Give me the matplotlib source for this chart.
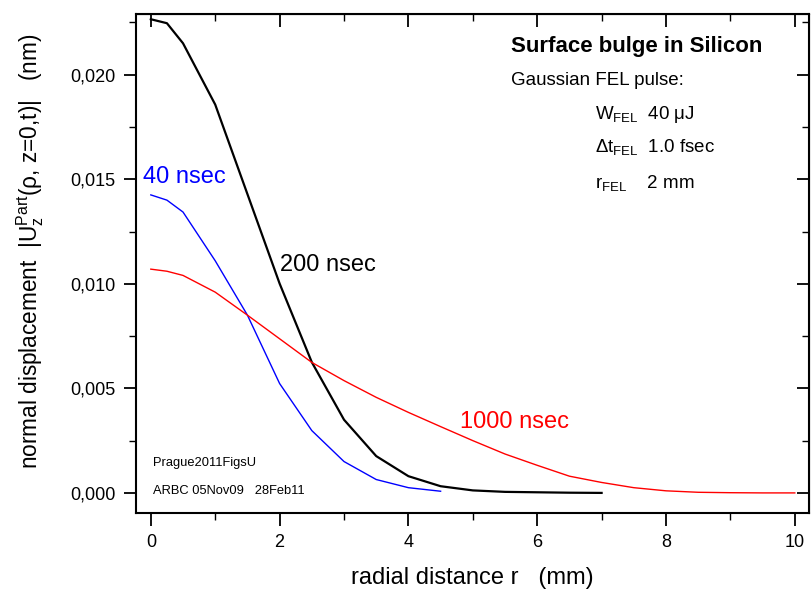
import numpy as np
import matplotlib
matplotlib.use('Agg')
import matplotlib.pyplot as plt
from matplotlib.ticker import MultipleLocator, FuncFormatter

plt.rcParams['font.family'] = ['Liberation Sans', 'DejaVu Sans']
plt.rcParams['mathtext.fontset'] = 'custom'
plt.rcParams['mathtext.rm'] = 'Liberation Sans'
plt.rcParams['mathtext.it'] = 'Liberation Sans:italic'
plt.rcParams['mathtext.default'] = 'regular'

# radial distance (mm) and displacement (nm)
r_40 = [0, 0.25, 0.5, 1.0, 1.5, 2.0, 2.5, 3.0, 3.5, 4.0, 4.5]
u_40 = [0.01425, 0.0140, 0.01343, 0.0111, 0.0085, 0.00523, 0.00298, 0.0015, 0.00064, 0.00025, 0.00008]

r_200 = [0, 0.25, 0.5, 1.0, 2.0, 2.5, 3.0, 3.5, 4.0, 4.5, 5.0, 5.5, 6.0, 6.5, 7.0]
u_200 = [0.02265, 0.02246, 0.0215, 0.01857, 0.01001, 0.00625, 0.0035, 0.00176, 0.0008,
         0.00032, 0.00012, 0.00005, 0.00003, 0.00001, 0.0]

r_1000 = [0, 0.25, 0.5, 1.0, 1.5, 2.0, 2.5, 3.0, 3.5, 4.0, 4.5, 5.0, 5.5, 6.0, 6.5,
          7.0, 7.5, 8.0, 8.5, 9.0, 9.5, 10.0]
u_1000 = [0.0107, 0.0106, 0.0104, 0.0096, 0.0085, 0.00737, 0.00624, 0.00537, 0.00457,
          0.00385, 0.00317, 0.0025, 0.00186, 0.00132, 0.0008, 0.0005, 0.00025, 0.0001,
          0.00003, 0.00001, 0.0, 0.0]

fig = plt.figure(figsize=(8.11, 5.91), dpi=100)
ax = fig.add_axes([0.1677, 0.1320, 0.8298, 0.8443])

ax.plot(r_40, u_40, color='blue', lw=1.0)
ax.plot(r_200, u_200, color='black', lw=1.6)
ax.plot(r_1000, u_1000, color='red', lw=1.0)

ax.set_xlim(-0.23, 10.22)
ax.set_ylim(-0.00096, 0.0229)

ax.xaxis.set_major_locator(MultipleLocator(2))
ax.xaxis.set_minor_locator(MultipleLocator(1))
ax.yaxis.set_major_locator(MultipleLocator(0.005))
ax.yaxis.set_minor_locator(MultipleLocator(0.0025))
ax.yaxis.set_major_formatter(FuncFormatter(lambda v, p: ('%.3f' % v).replace('.', ',')))

ax.tick_params(which='major', direction='out', length=9, width=1.3, labelsize=13, pad=6)
ax.tick_params(which='minor', direction='out', length=5, width=1.0)
for s in ax.spines.values():
    s.set_linewidth(1.5)

# mirrored ticks on top and right, pointing inward
top = ax.secondary_xaxis('top')
top.xaxis.set_major_locator(MultipleLocator(2))
top.xaxis.set_minor_locator(MultipleLocator(1))
top.tick_params(which='major', direction='in', length=9, width=1.3, labeltop=False)
top.tick_params(which='minor', direction='in', length=5, width=1.0)
right = ax.secondary_yaxis('right')
right.yaxis.set_major_locator(MultipleLocator(0.005))
right.yaxis.set_minor_locator(MultipleLocator(0.0025))
right.tick_params(which='major', direction='in', length=9, width=1.3, labelright=False)
right.tick_params(which='minor', direction='in', length=5, width=1.0)

ax.set_xlabel('radial distance r   (mm)', fontsize=17, labelpad=12)
ax.set_ylabel(r'normal displacement  |U$_\mathrm{z}^\mathrm{Part}$($\rho$, z=0,t)|   (nm)',
              fontsize=16.3)
ax.yaxis.set_label_coords(-0.133, 0.525)

ax.text(-0.12, 0.0148, '40 nsec', color='blue', fontsize=17)
ax.text(2.0, 0.0106, '200 nsec', color='black', fontsize=17)
ax.text(4.8, 0.0031, '1000 nsec', color='red', fontsize=17)

ax.text(0.03, 0.0013, 'Prague2011FigsU', fontsize=9.3)
ax.text(0.03, -0.00005, 'ARBC 05Nov09   28Feb11', fontsize=9.3)

ax.text(5.6, 0.0211, 'Surface bulge in Silicon', fontsize=16, fontweight='bold')
ax.text(5.6, 0.0195, 'Gaussian FEL pulse:', fontsize=13.5)
ax.text(6.9, 0.0179, r'W$_{\mathrm{FEL}}$  40 $\mu$J', fontsize=13.5)
ax.text(6.9, 0.0163, r'$\Delta$t$_{\mathrm{FEL}}$  1.0 fsec', fontsize=13.5)
ax.text(6.9, 0.0146, r'r$_{\mathrm{FEL}}$    2 mm', fontsize=13.5)

fig.savefig('out.png', dpi=100)
